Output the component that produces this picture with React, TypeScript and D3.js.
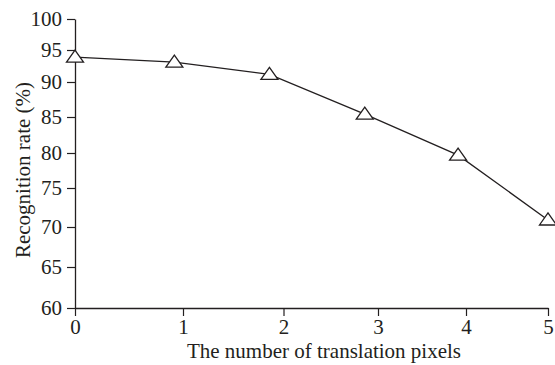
import React, { useEffect, useRef } from "react";
import * as d3 from "d3";

const shiftPixels = [0, 0.92, 1.86, 2.86, 3.91, 5];
const recognitionRate = [93.9, 93.1, 91.2, 85.4, 79.7, 70.9];
const xTicks = [0, 1, 2, 3, 4, 5];
const yTicks = [60, 65, 70, 75, 80, 85, 90, 95, 100];
const xTitle = "The number of translation pixels";
const yTitle = "Recognition rate (%)";

const FONT = "'Liberation Serif', 'Times New Roman', serif";
const INK = "#231f20";

export default function App() {
  const ref = useRef<SVGSVGElement>(null);

  useEffect(() => {
    document.body.style.margin = "0";
    const svg = d3.select(ref.current);
    svg.selectAll("*").remove();

    // the tick spacing in the source figure is not even, so both scales are piecewise
    const x = d3.scaleLinear().domain(xTicks).range([75, 183, 283.5, 378, 466, 548]);
    const y = d3.scaleLinear().domain(yTicks).range([308, 267, 227, 188, 153, 117, 82, 50, 19]);

    const xAxis = svg.append("g")
      .attr("transform", `translate(0, ${y(60)})`)
      .call(d3.axisBottom(x).tickValues(xTicks).tickFormat(d3.format("d"))
        .tickSize(8).tickSizeOuter(0).tickPadding(3));

    const yAxis = svg.append("g")
      .attr("transform", `translate(${x(0)}, 0)`)
      .call(d3.axisLeft(y).tickValues(yTicks).tickFormat(d3.format("d"))
        .tickSize(8).tickSizeOuter(0).tickPadding(5));

    [xAxis, yAxis].forEach(g => {
      g.attr("font-family", FONT).attr("font-size", 21);
      g.select(".domain").attr("stroke", INK).attr("stroke-width", 1.3);
      g.selectAll(".tick line").attr("stroke", INK).attr("stroke-width", 1.2);
      g.selectAll(".tick text").attr("fill", INK);
    });

    const pts = shiftPixels.map((d, i) => [x(d), y(recognitionRate[i])] as [number, number]);

    svg.append("path")
      .datum(pts)
      .attr("fill", "none")
      .attr("stroke", INK)
      .attr("stroke-width", 1.3)
      .attr("d", d3.line());

    svg.selectAll(".marker")
      .data(pts)
      .enter()
      .append("path")
      .attr("class", "marker")
      .attr("transform", d => `translate(${d[0]}, ${d[1]})`)
      .attr("d", "M0,-7L8.5,5L-8.5,5Z")
      .attr("fill", "white")
      .attr("stroke", INK)
      .attr("stroke-width", 1.3);

    svg.append("text")
      .attr("x", 324)
      .attr("y", 358)
      .attr("text-anchor", "middle")
      .attr("font-family", FONT)
      .attr("font-size", 21)
      .attr("fill", INK)
      .text(xTitle);

    svg.append("text")
      .attr("transform", "translate(30, 170) rotate(-90)")
      .attr("text-anchor", "middle")
      .attr("font-family", FONT)
      .attr("font-size", 21)
      .attr("fill", INK)
      .text(yTitle);
  }, []);

  return <svg ref={ref} width={555} height={365} style={{ display: "block", background: "white" }} />;
}
